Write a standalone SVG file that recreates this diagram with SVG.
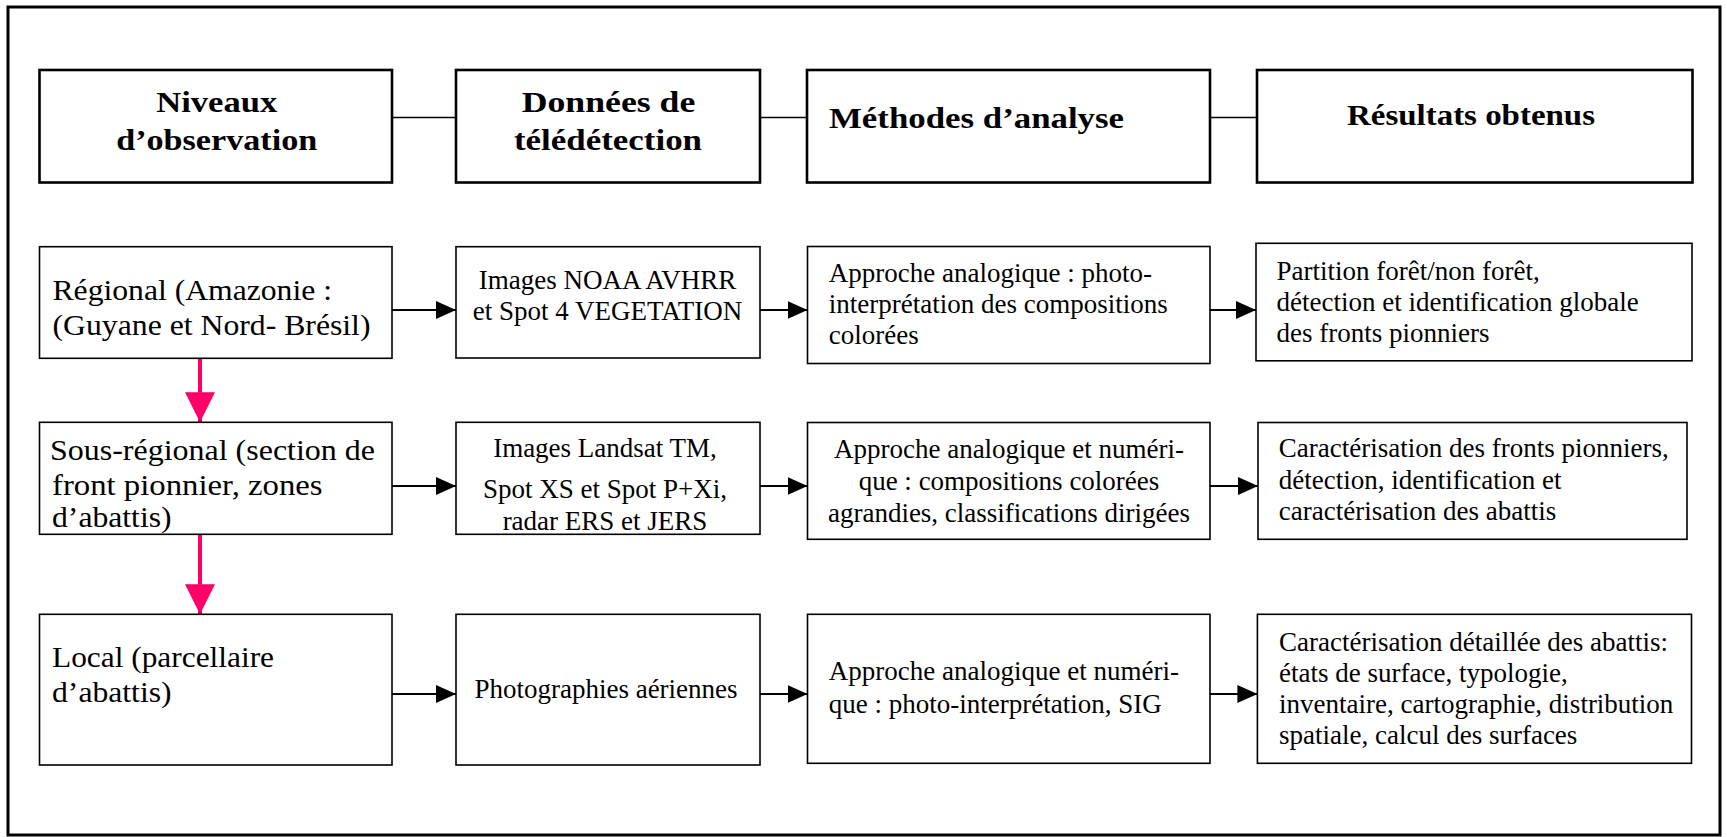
<svg xmlns="http://www.w3.org/2000/svg" width="1727" height="837" viewBox="0 0 1727 837">
<style>
.frame{fill:#fff;stroke:#000;stroke-width:3}
.hbox{fill:#fff;stroke:#000;stroke-width:2.6}
.box{fill:#fff;stroke:#000;stroke-width:1.6}
.hd{font-family:"Liberation Serif","Times New Roman",serif;font-weight:bold;font-size:30px;fill:#000}
.pal{font-family:"Liberation Serif","Times New Roman",serif;font-size:28.5px;fill:#000}
.tm{font-family:"Liberation Serif","Times New Roman",serif;font-size:27px;fill:#000}
.mid{text-anchor:middle}
.link{stroke:#000;stroke-width:1.6;fill:none}
.arr{stroke:#000;stroke-width:2;fill:none}
.pink{stroke:#FF0066;stroke-width:4;fill:none}
</style>
<defs>
<marker id="ah" markerUnits="userSpaceOnUse" markerWidth="20" markerHeight="18" refX="20" refY="9" orient="auto" viewBox="0 0 20 18">
<path d="M0,0 L20,9 L0,18 z" fill="#000"/>
</marker>
<marker id="ahp" markerUnits="userSpaceOnUse" markerWidth="30" markerHeight="30" refX="30" refY="15" orient="auto" viewBox="0 0 30 30">
<path d="M0,0 L30,15 L0,30 z" fill="#FF0066"/>
</marker>
</defs>
<rect x="0" y="0" width="1727" height="837" fill="#fff"/>
<rect class="frame" x="8" y="7" width="1712" height="828"/>

<g id="connectors">
<line class="link" x1="392" y1="117.5" x2="456" y2="117.5"/>
<line class="link" x1="760" y1="117.5" x2="807" y2="117.5"/>
<line class="link" x1="1210" y1="117.5" x2="1257" y2="117.5"/>
<line class="arr" x1="392" y1="310" x2="456" y2="310" marker-end="url(#ah)"/>
<line class="arr" x1="760" y1="310" x2="807.5" y2="310" marker-end="url(#ah)"/>
<line class="arr" x1="1210" y1="310" x2="1256" y2="310" marker-end="url(#ah)"/>
<line class="arr" x1="392" y1="486" x2="456" y2="486" marker-end="url(#ah)"/>
<line class="arr" x1="760" y1="486" x2="807.5" y2="486" marker-end="url(#ah)"/>
<line class="arr" x1="1210" y1="486" x2="1258" y2="486" marker-end="url(#ah)"/>
<line class="arr" x1="392" y1="694" x2="456" y2="694" marker-end="url(#ah)"/>
<line class="arr" x1="760" y1="694" x2="807.5" y2="694" marker-end="url(#ah)"/>
<line class="arr" x1="1210" y1="694" x2="1257.4" y2="694" marker-end="url(#ah)"/>
<line class="pink" x1="200" y1="358.3" x2="200" y2="422.3" marker-end="url(#ahp)"/>
<line class="pink" x1="200" y1="534.3" x2="200" y2="614.3" marker-end="url(#ahp)"/>
</g>

<g id="h1">
<rect class="hbox" x="39.5" y="70" width="352.5" height="112.5"/>
<text class="hd mid" x="216.7" y="111.7" textLength="121" lengthAdjust="spacingAndGlyphs">Niveaux</text>
<text class="hd mid" x="216.7" y="150" textLength="201" lengthAdjust="spacingAndGlyphs">d’observation</text>
</g>
<g id="h2">
<rect class="hbox" x="456" y="70" width="304" height="112.5"/>
<text class="hd mid" x="608.5" y="111.7" textLength="173.5" lengthAdjust="spacingAndGlyphs">Données de</text>
<text class="hd mid" x="608" y="150" textLength="188" lengthAdjust="spacingAndGlyphs">télédétection</text>
</g>
<g id="h3">
<rect class="hbox" x="807" y="70" width="403" height="112.5"/>
<text class="hd" x="829" y="128" textLength="295" lengthAdjust="spacingAndGlyphs">Méthodes d’analyse</text>
</g>
<g id="h4">
<rect class="hbox" x="1257" y="70" width="435.5" height="112.5"/>
<text class="hd mid" x="1471" y="124.5" textLength="248" lengthAdjust="spacingAndGlyphs">Résultats obtenus</text>
</g>

<g id="r1c1">
<rect class="box" x="39.5" y="246.7" width="352.5" height="111.6"/>
<text class="pal" x="52.5" y="300" textLength="279.5" lengthAdjust="spacingAndGlyphs">Régional (Amazonie :</text>
<text class="pal" x="52.5" y="335" textLength="318" lengthAdjust="spacingAndGlyphs">(Guyane et Nord- Brésil)</text>
</g>
<g id="r1c2">
<rect class="box" x="456" y="246.7" width="304" height="111.3"/>
<text class="tm mid" x="607.5" y="289">Images NOAA AVHRR</text>
<text class="tm mid" x="607.5" y="320">et Spot 4 VEGETATION</text>
</g>
<g id="r1c3">
<rect class="box" x="807.5" y="246.5" width="402.5" height="117"/>
<text class="tm" x="828.8" y="281.7">Approche analogique : photo-</text>
<text class="tm" x="828.8" y="313">interprétation des compositions</text>
<text class="tm" x="828.8" y="344">colorées</text>
</g>
<g id="r1c4">
<rect class="box" x="1256" y="243.3" width="436" height="117.5"/>
<text class="tm" x="1276.5" y="280">Partition forêt/non forêt,</text>
<text class="tm" x="1276.5" y="310.7">détection et identification globale</text>
<text class="tm" x="1276.5" y="341.7">des fronts pionniers</text>
</g>

<g id="r2c1">
<rect class="box" x="39.5" y="422.3" width="352.5" height="112"/>
<text class="pal" x="50" y="460" textLength="325" lengthAdjust="spacingAndGlyphs">Sous-régional (section de</text>
<text class="pal" x="52" y="495" textLength="270.6" lengthAdjust="spacingAndGlyphs">front pionnier, zones</text>
<text class="pal" x="52" y="527" textLength="119.6" lengthAdjust="spacingAndGlyphs">d’abattis)</text>
</g>
<g id="r2c2">
<rect class="box" x="456" y="422.3" width="304" height="112"/>
<text class="tm mid" x="605" y="456.7">Images Landsat TM,</text>
<text class="tm mid" x="605" y="498">Spot XS et Spot P+Xi,</text>
<text class="tm mid" x="605" y="530">radar ERS et JERS</text>
</g>
<g id="r2c3">
<rect class="box" x="807.5" y="422.5" width="402.5" height="116.8"/>
<text class="tm mid" x="1009" y="458">Approche analogique et numéri-</text>
<text class="tm mid" x="1009" y="490">que : compositions colorées</text>
<text class="tm mid" x="1009" y="521.7">agrandies, classifications dirigées</text>
</g>
<g id="r2c4">
<rect class="box" x="1258" y="422.5" width="429" height="116.8"/>
<text class="tm" x="1278.8" y="457">Caractérisation des fronts pionniers,</text>
<text class="tm" x="1278.8" y="488.5">détection, identification et</text>
<text class="tm" x="1278.8" y="520">caractérisation des abattis</text>
</g>

<g id="r3c1">
<rect class="box" x="39.5" y="614.3" width="352.5" height="150.7"/>
<text class="pal" x="52" y="667" textLength="222" lengthAdjust="spacingAndGlyphs">Local (parcellaire</text>
<text class="pal" x="52" y="702" textLength="119.6" lengthAdjust="spacingAndGlyphs">d’abattis)</text>
</g>
<g id="r3c2">
<rect class="box" x="456" y="614.3" width="304" height="150.7"/>
<text class="tm mid" x="606" y="698">Photographies aériennes</text>
</g>
<g id="r3c3">
<rect class="box" x="807.5" y="614.3" width="402.5" height="149"/>
<text class="tm" x="828.8" y="680">Approche analogique et numéri-</text>
<text class="tm" x="828.8" y="713">que : photo-interprétation, SIG</text>
</g>
<g id="r3c4">
<rect class="box" x="1257.4" y="614.3" width="434.1" height="149"/>
<text class="tm" x="1279" y="650.5">Caractérisation détaillée des abattis:</text>
<text class="tm" x="1279" y="681.5">états de surface, typologie,</text>
<text class="tm" x="1279" y="712.5">inventaire, cartographie, distribution</text>
<text class="tm" x="1279" y="743.5">spatiale, calcul des surfaces</text>
</g>
</svg>
